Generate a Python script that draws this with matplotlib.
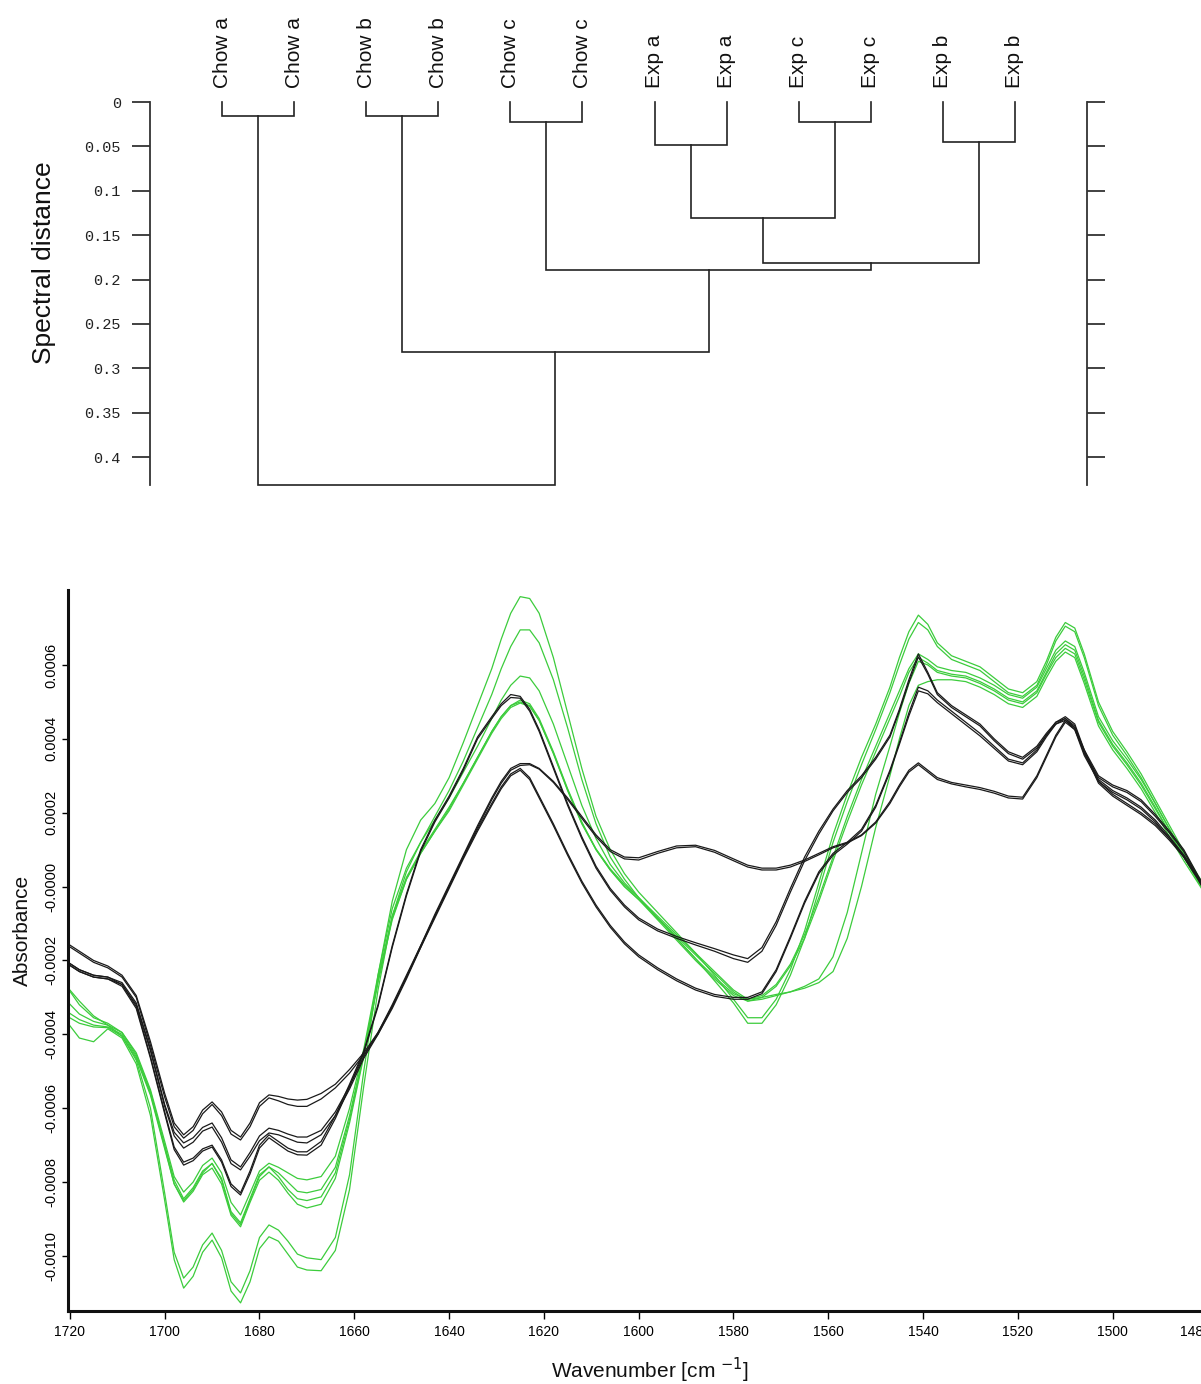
import numpy as np
import matplotlib
matplotlib.use("Agg")
import matplotlib.pyplot as plt
from matplotlib.transforms import ScaledTranslation

# ---------------- dendrogram data ----------------
leaf_labels = ['Chow a', 'Chow a', 'Chow b', 'Chow b', 'Chow c', 'Chow c',
               'Exp a', 'Exp a', 'Exp c', 'Exp c', 'Exp b', 'Exp b']
# (left node, right node, spectral distance); nodes 0-11 are leaves
merges = [
    (0, 1, 0.016),
    (2, 3, 0.016),
    (4, 5, 0.0225),
    (6, 7, 0.0485),
    (8, 9, 0.0225),
    (10, 11, 0.045),
    (15, 16, 0.131),
    (18, 17, 0.181),
    (14, 19, 0.189),
    (13, 20, 0.282),
    (12, 21, 0.4315),
]
dist_ticks = [0, 0.05, 0.1, 0.15, 0.2, 0.25, 0.3, 0.35, 0.4]
dist_ticklabels = ['0', '0.05', '0.1', '0.15', '0.2', '0.25', '0.3', '0.35', '0.4']

# ---------------- spectra data (absorbance x 1e-4) ----------------
wavenumber = [1721, 1718, 1715, 1712, 1709, 1706, 1703, 1700, 1698, 1696,
              1694, 1692, 1690, 1688, 1686, 1684, 1682, 1680, 1678, 1676,
              1674, 1672, 1670, 1667, 1664, 1661, 1658, 1655, 1652, 1649,
              1646, 1643, 1640, 1637, 1634, 1631, 1629, 1627, 1625, 1623,
              1621, 1618, 1615, 1612, 1609, 1606, 1603, 1600, 1596, 1592,
              1588, 1584, 1580, 1577, 1574, 1571, 1568, 1565, 1562, 1559,
              1556, 1553, 1550, 1547, 1545, 1543, 1541, 1539, 1537, 1534,
              1531, 1528, 1525, 1522, 1519, 1516, 1514, 1512, 1510, 1508,
              1506, 1503, 1500, 1497, 1494, 1491, 1488, 1485, 1482, 1479]

chow_a_1 = [-1.50, -1.75, -2.00, -2.15, -2.40, -2.95, -4.20, -5.60, -6.40, -6.72,
            -6.50, -6.05, -5.83, -6.10, -6.60, -6.78, -6.40, -5.85, -5.64, -5.68,
            -5.75, -5.78, -5.76, -5.60, -5.35, -4.95, -4.50, -3.95, -3.25, -2.45,
            -1.60, -0.75, 0.05, 0.85, 1.65, 2.40, 2.85, 3.20, 3.33, 3.33,
            3.20, 2.85, 2.40, 1.90, 1.40, 1.00, 0.80, 0.78, 0.95, 1.10,
            1.12, 0.98, 0.75, 0.58, 0.50, 0.50, 0.58, 0.72, 0.90, 1.08,
            1.20, 1.40, 1.75, 2.30, 2.75, 3.15, 3.35, 3.15, 2.95, 2.82,
            2.75, 2.68, 2.58, 2.45, 2.42, 3.00, 3.55, 4.10, 4.50, 4.30,
            3.70, 2.85, 2.50, 2.25, 2.00, 1.70, 1.30, 0.85, 0.25, -0.45]
chow_a_2 = [-1.55, -1.80, -2.05, -2.20, -2.45, -3.00, -4.30, -5.70, -6.50, -6.81,
            -6.60, -6.15, -5.90, -6.20, -6.70, -6.86, -6.50, -5.95, -5.72, -5.80,
            -5.90, -5.95, -5.95, -5.75, -5.45, -5.05, -4.55, -4.00, -3.30, -2.50,
            -1.65, -0.80, 0.00, 0.80, 1.60, 2.35, 2.80, 3.15, 3.28, 3.30,
            3.18, 2.82, 2.36, 1.85, 1.35, 0.95, 0.75, 0.72, 0.90, 1.05,
            1.08, 0.93, 0.70, 0.53, 0.45, 0.45, 0.53, 0.68, 0.86, 1.05,
            1.18, 1.38, 1.72, 2.25, 2.70, 3.10, 3.30, 3.10, 2.90, 2.78,
            2.70, 2.63, 2.53, 2.40, 2.37, 2.95, 3.50, 4.05, 4.45, 4.25,
            3.65, 2.80, 2.45, 2.20, 1.95, 1.65, 1.25, 0.80, 0.20, -0.50]
chow_b_1 = [-2.00, -2.25, -2.40, -2.45, -2.60, -3.15, -4.40, -5.90, -6.65, -6.94,
            -6.80, -6.52, -6.40, -6.80, -7.40, -7.59, -7.20, -6.75, -6.54, -6.60,
            -6.70, -6.78, -6.78, -6.60, -6.10, -5.40, -4.60, -3.95, -3.20, -2.40,
            -1.60, -0.80, 0.00, 0.80, 1.55, 2.25, 2.70, 3.05, 3.20, 2.95,
            2.45, 1.70, 0.90, 0.15, -0.50, -1.05, -1.50, -1.85, -2.20, -2.50,
            -2.75, -2.92, -3.00, -3.00, -2.85, -2.25, -1.35, -0.40, 0.40, 0.90,
            1.20, 1.55, 2.20, 3.15, 3.90, 4.70, 5.40, 5.30, 5.05, 4.75,
            4.45, 4.15, 3.80, 3.45, 3.35, 3.70, 4.10, 4.45, 4.55, 4.30,
            3.60, 2.90, 2.60, 2.40, 2.15, 1.80, 1.35, 0.85, 0.25, -0.40]
chow_b_2 = [-2.05, -2.30, -2.45, -2.50, -2.65, -3.20, -4.45, -5.95, -6.75, -7.08,
            -6.92, -6.62, -6.51, -6.92, -7.50, -7.67, -7.30, -6.88, -6.67, -6.72,
            -6.82, -6.92, -6.94, -6.72, -6.20, -5.48, -4.65, -4.00, -3.25, -2.45,
            -1.65, -0.85, -0.05, 0.75, 1.50, 2.20, 2.65, 3.00, 3.15, 2.90,
            2.40, 1.65, 0.85, 0.10, -0.55, -1.10, -1.55, -1.90, -2.25, -2.55,
            -2.80, -2.97, -3.05, -3.05, -2.90, -2.30, -1.40, -0.45, 0.35, 0.85,
            1.15, 1.50, 2.15, 3.10, 3.85, 4.62, 5.30, 5.22, 4.98, 4.68,
            4.38, 4.08, 3.74, 3.40, 3.30, 3.65, 4.05, 4.40, 4.50, 4.25,
            3.55, 2.85, 2.55, 2.35, 2.10, 1.75, 1.30, 0.80, 0.20, -0.45]
chow_c_1 = [-2.00, -2.25, -2.40, -2.45, -2.65, -3.25, -4.60, -6.10, -7.05, -7.46,
            -7.35, -7.10, -7.00, -7.40, -8.05, -8.29, -7.70, -7.00, -6.72, -6.90,
            -7.08, -7.18, -7.18, -6.90, -6.20, -5.35, -4.45, -3.20, -1.60, -0.20,
            1.00, 1.80, 2.45, 3.20, 4.05, 4.60, 4.95, 5.20, 5.15, 4.80,
            4.25, 3.25, 2.25, 1.35, 0.55, -0.05, -0.50, -0.85, -1.15, -1.35,
            -1.52, -1.68, -1.85, -1.95, -1.65, -0.95, -0.05, 0.80, 1.50, 2.10,
            2.60, 3.00, 3.50, 4.10, 4.80, 5.60, 6.30, 5.80, 5.25, 4.90,
            4.65, 4.40, 4.00, 3.65, 3.50, 3.80, 4.15, 4.45, 4.60, 4.40,
            3.70, 3.00, 2.75, 2.60, 2.35, 1.95, 1.50, 1.00, 0.30, -0.35]
chow_c_2 = [-2.05, -2.30, -2.45, -2.50, -2.70, -3.30, -4.65, -6.15, -7.12, -7.54,
            -7.42, -7.16, -7.05, -7.46, -8.12, -8.35, -7.78, -7.08, -6.80, -6.98,
            -7.16, -7.26, -7.27, -7.00, -6.28, -5.42, -4.50, -3.25, -1.65, -0.25,
            0.95, 1.75, 2.40, 3.15, 4.00, 4.55, 4.90, 5.12, 5.10, 4.75,
            4.20, 3.20, 2.20, 1.30, 0.50, -0.10, -0.55, -0.90, -1.20, -1.40,
            -1.58, -1.75, -1.95, -2.05, -1.75, -1.05, -0.15, 0.70, 1.42, 2.05,
            2.55, 2.95, 3.45, 4.05, 4.75, 5.52, 6.22, 5.75, 5.20, 4.85,
            4.60, 4.35, 3.95, 3.60, 3.45, 3.75, 4.10, 4.40, 4.55, 4.35,
            3.65, 2.95, 2.70, 2.55, 2.30, 1.90, 1.45, 0.95, 0.25, -0.40]

exp_a_1 = [-2.65, -3.10, -3.50, -3.75, -4.05, -4.70, -6.00, -8.30, -9.90, -10.60,
           -10.30, -9.70, -9.38, -9.85, -10.70, -11.00, -10.40, -9.50, -9.16, -9.30,
           -9.60, -9.95, -10.05, -10.10, -9.50, -7.80, -5.00, -2.40, -0.40, 1.00,
           1.80, 2.25, 2.95, 3.90, 4.90, 5.90, 6.70, 7.40, 7.85, 7.80,
           7.40, 6.20, 4.70, 3.20, 1.90, 1.00, 0.35, -0.15, -0.70, -1.25,
           -1.80, -2.40, -3.05, -3.55, -3.55, -3.05, -2.25, -1.20, 0.10, 1.40,
           2.50, 3.50, 4.40, 5.40, 6.20, 6.90, 7.35, 7.10, 6.60, 6.25,
           6.10, 5.95, 5.65, 5.35, 5.25, 5.55, 6.10, 6.75, 7.15, 7.00,
           6.30, 5.00, 4.20, 3.65, 3.05, 2.35, 1.65, 0.95, 0.30, -0.30]
exp_a_2 = [-3.60, -4.10, -4.20, -3.85, -4.10, -4.80, -6.20, -8.50, -10.10, -10.87,
           -10.55, -9.90, -9.57, -10.05, -10.95, -11.27, -10.70, -9.80, -9.48, -9.60,
           -9.95, -10.30, -10.38, -10.40, -9.85, -8.20, -5.40, -2.80, -0.80, 0.40,
           1.20, 1.90, 2.60, 3.40, 4.30, 5.20, 5.90, 6.50, 6.95, 6.95,
           6.60, 5.60, 4.30, 2.90, 1.70, 0.80, 0.20, -0.30, -0.85, -1.40,
           -1.95, -2.55, -3.15, -3.70, -3.70, -3.20, -2.40, -1.40, -0.10, 1.20,
           2.30, 3.30, 4.25, 5.25, 6.00, 6.70, 7.15, 6.95, 6.50, 6.15,
           6.00, 5.85, 5.55, 5.25, 5.15, 5.45, 6.00, 6.65, 7.05, 6.90,
           6.20, 4.90, 4.10, 3.55, 2.95, 2.25, 1.55, 0.85, 0.20, -0.40]
exp_b_1 = [-3.05, -3.45, -3.65, -3.75, -3.95, -4.50, -5.50, -6.90, -7.85, -8.27,
           -8.00, -7.55, -7.35, -7.75, -8.55, -8.89, -8.30, -7.70, -7.49, -7.60,
           -7.75, -7.90, -7.94, -7.85, -7.30, -6.00, -4.40, -2.40, -0.60, 0.50,
           1.20, 1.80, 2.40, 3.10, 3.80, 4.55, 5.05, 5.45, 5.70, 5.65,
           5.30, 4.40, 3.30, 2.20, 1.30, 0.60, 0.10, -0.30, -0.80, -1.30,
           -1.80, -2.30, -2.80, -3.05, -2.95, -2.65, -2.10, -1.30, -0.30, 0.80,
           1.90, 2.90, 3.80, 4.70, 5.30, 5.90, 6.30, 6.15, 5.95, 5.85,
           5.80, 5.65, 5.45, 5.20, 5.10, 5.40, 5.90, 6.40, 6.65, 6.50,
           5.80, 4.60, 3.95, 3.45, 2.90, 2.25, 1.55, 0.90, 0.25, -0.35]
exp_b_2 = [-2.65, -3.20, -3.55, -3.70, -3.95, -4.55, -5.55, -7.00, -7.95, -8.45,
           -8.15, -7.70, -7.50, -7.90, -8.80, -9.10, -8.45, -7.80, -7.59, -7.75,
           -8.00, -8.25, -8.29, -8.20, -7.60, -6.20, -4.50, -2.50, -0.80, 0.25,
           0.95, 1.55, 2.15, 2.80, 3.50, 4.20, 4.60, 4.90, 5.05, 4.95,
           4.55, 3.65, 2.65, 1.75, 1.00, 0.45, 0.00, -0.35, -0.85, -1.35,
           -1.85, -2.35, -2.85, -3.10, -3.00, -2.70, -2.15, -1.40, -0.40, 0.70,
           1.75, 2.75, 3.65, 4.55, 5.15, 5.80, 6.20, 6.05, 5.85, 5.75,
           5.70, 5.55, 5.35, 5.10, 5.00, 5.30, 5.80, 6.30, 6.55, 6.40,
           5.70, 4.50, 3.85, 3.35, 2.80, 2.15, 1.45, 0.80, 0.15, -0.45]
exp_c_1 = [-3.35, -3.60, -3.75, -3.80, -4.00, -4.60, -5.60, -7.05, -8.05, -8.54,
           -8.25, -7.80, -7.62, -8.05, -8.90, -9.21, -8.55, -7.95, -7.73, -7.95,
           -8.30, -8.60, -8.70, -8.60, -7.90, -6.40, -4.60, -2.60, -0.90, 0.20,
           0.90, 1.50, 2.10, 2.80, 3.50, 4.20, 4.60, 4.90, 5.00, 4.90,
           4.50, 3.60, 2.60, 1.70, 1.00, 0.45, 0.00, -0.35, -0.90, -1.45,
           -2.00, -2.50, -2.95, -3.10, -3.05, -2.95, -2.85, -2.70, -2.50, -1.90,
           -0.70, 0.90, 2.50, 3.80, 4.70, 5.50, 6.10, 6.00, 5.80, 5.70,
           5.65, 5.50, 5.30, 5.05, 4.95, 5.25, 5.75, 6.20, 6.45, 6.30,
           5.60, 4.45, 3.80, 3.30, 2.75, 2.10, 1.45, 0.80, 0.15, -0.45]
exp_c_2 = [-3.48, -3.70, -3.80, -3.82, -4.05, -4.65, -5.65, -7.10, -8.05, -8.50,
           -8.20, -7.75, -7.49, -7.95, -8.85, -9.15, -8.50, -7.85, -7.59, -7.85,
           -8.20, -8.45, -8.50, -8.40, -7.75, -6.30, -4.55, -2.55, -0.85, 0.20,
           0.90, 1.50, 2.05, 2.75, 3.45, 4.15, 4.55, 4.85, 4.97, 4.88,
           4.50, 3.62, 2.62, 1.72, 1.02, 0.48, 0.05, -0.30, -0.85, -1.40,
           -1.95, -2.45, -2.90, -3.05, -3.00, -2.92, -2.85, -2.75, -2.60, -2.30,
           -1.40, 0.00, 1.60, 3.00, 4.00, 4.90, 5.45, 5.55, 5.60, 5.60,
           5.55, 5.40, 5.20, 4.95, 4.85, 5.15, 5.65, 6.10, 6.35, 6.20,
           5.50, 4.35, 3.70, 3.20, 2.65, 2.00, 1.35, 0.70, 0.10, -0.50]

black_series = [chow_a_1, chow_a_2, chow_b_1, chow_b_2, chow_c_1, chow_c_2]
green_series = [exp_a_1, exp_a_2, exp_b_1, exp_b_2, exp_c_1, exp_c_2]

abs_ticks = [0.0006, 0.0004, 0.0002, 0.0, -0.0002, -0.0004, -0.0006, -0.0008, -0.0010]
abs_ticklabels = ['0.0006', '0.0004', '0.0002', '-0.0000', '-0.0002', '-0.0004',
                  '-0.0006', '-0.0008', '-0.0010']
wn_ticks = [1720, 1700, 1680, 1660, 1640, 1620, 1600, 1580, 1560, 1540, 1520, 1500, 1480]

# ---------------- figure ----------------
W, H = 1201, 1384
fig = plt.figure(figsize=(W / 100, H / 100), dpi=100)

narrow = ['Liberation Sans Narrow', 'Liberation Sans', 'DejaVu Sans']
sans = ['Liberation Sans', 'DejaVu Sans']
mono = ['Liberation Mono', 'DejaVu Sans Mono']

def fx(px):
    return px / W

def fy(py):
    return 1 - py / H

# ---- dendrogram ----
axd = fig.add_axes([fx(150), fy(485), fx(1087) - fx(150), fy(102) - fy(485)])
axd.set_xlim(-1, 12)
axd.set_ylim(0.4315, 0)
for s in ['top', 'bottom', 'right']:
    axd.spines[s].set_visible(False)
axd.spines['left'].set_color('#333333')
axd.spines['left'].set_linewidth(1.3)
axd.set_xticks([])
axd.set_yticks(dist_ticks)
axd.set_yticklabels(dist_ticklabels, family=mono, fontsize=11, color='#222222')
axd.tick_params(axis='y', direction='out', length=13, width=1.3, color='#333333', pad=8)

axr = axd.twinx()
axr.set_ylim(0.4315, 0)
for s in ['top', 'bottom', 'left']:
    axr.spines[s].set_visible(False)
axr.spines['right'].set_color('#333333')
axr.spines['right'].set_linewidth(1.3)
axr.set_yticks(dist_ticks)
axr.set_yticklabels([])
axr.tick_params(axis='y', direction='out', length=13, width=1.3, color='#333333')

pos = {i: float(i) for i in range(len(leaf_labels))}
hgt = {i: 0.0 for i in range(len(leaf_labels))}
node = len(leaf_labels)
for a, b, h in merges:
    xa, xb = pos[a], pos[b]
    axd.plot([xa, xa, xb, xb], [hgt[a], h, h, hgt[b]], color='#222222',
             lw=1.2, clip_on=False, solid_joinstyle='miter')
    pos[node] = (xa + xb) / 2
    hgt[node] = h
    node += 1

for i, lab in enumerate(leaf_labels):
    axd.text(i, -0.016, lab, rotation=90, ha='center', va='bottom',
             family=sans, fontsize=15, color='#111111')

fig.text(fx(44), fy(263), 'Spectral distance', rotation=90, ha='center', va='center',
         family=sans, fontsize=19, color='#111111')

# ---- spectra ----
ax = fig.add_axes([fx(68), fy(1311), fx(1212) - fx(68), fy(590) - fy(1311)])
wn = np.array(wavenumber)
for s in green_series:
    ax.plot(wn, np.array(s) * 1e-4, color='#3ccc3c', lw=0.9, solid_joinstyle='round')
for s in black_series:
    ax.plot(wn, np.array(s) * 1e-4, color='#1a1a1a', lw=0.9, solid_joinstyle='round')

ax.set_xlim(1720.4, 1479.05)
ax.set_ylim(-11.49e-4, 8.03e-4)
for s in ['top', 'right']:
    ax.spines[s].set_visible(False)
for s in ['left', 'bottom']:
    ax.spines[s].set_linewidth(2.2)
    ax.spines[s].set_color('#111111')
ax.set_xticks(wn_ticks)
ax.set_xticklabels([str(t) for t in wn_ticks], family=narrow, fontsize=10)
ax.set_yticks(abs_ticks)
ax.set_yticklabels(abs_ticklabels, family=narrow, fontsize=10.5, rotation=90, va='center')
ax.tick_params(axis='x', direction='out', length=6, width=1, pad=4)
ax.tick_params(axis='y', direction='out', length=4, width=1, pad=3)
# the last tick label sits at the cut edge of the picture, as in the source
last = ax.get_xticklabels()[-1]
last.set_transform(last.get_transform() + ScaledTranslation(-0.12, 0, fig.dpi_scale_trans))

fig.text(fx(22), fy(930), 'Absorbance', rotation=90, ha='center', va='center',
         family=sans, fontsize=15, color='#111111')
fig.text(fx(650), fy(1370), 'Wavenumber [cm $^{-1}$]', ha='center', va='center',
         family=sans, fontsize=15, color='#111111')

fig.savefig('out.png', dpi=100)
